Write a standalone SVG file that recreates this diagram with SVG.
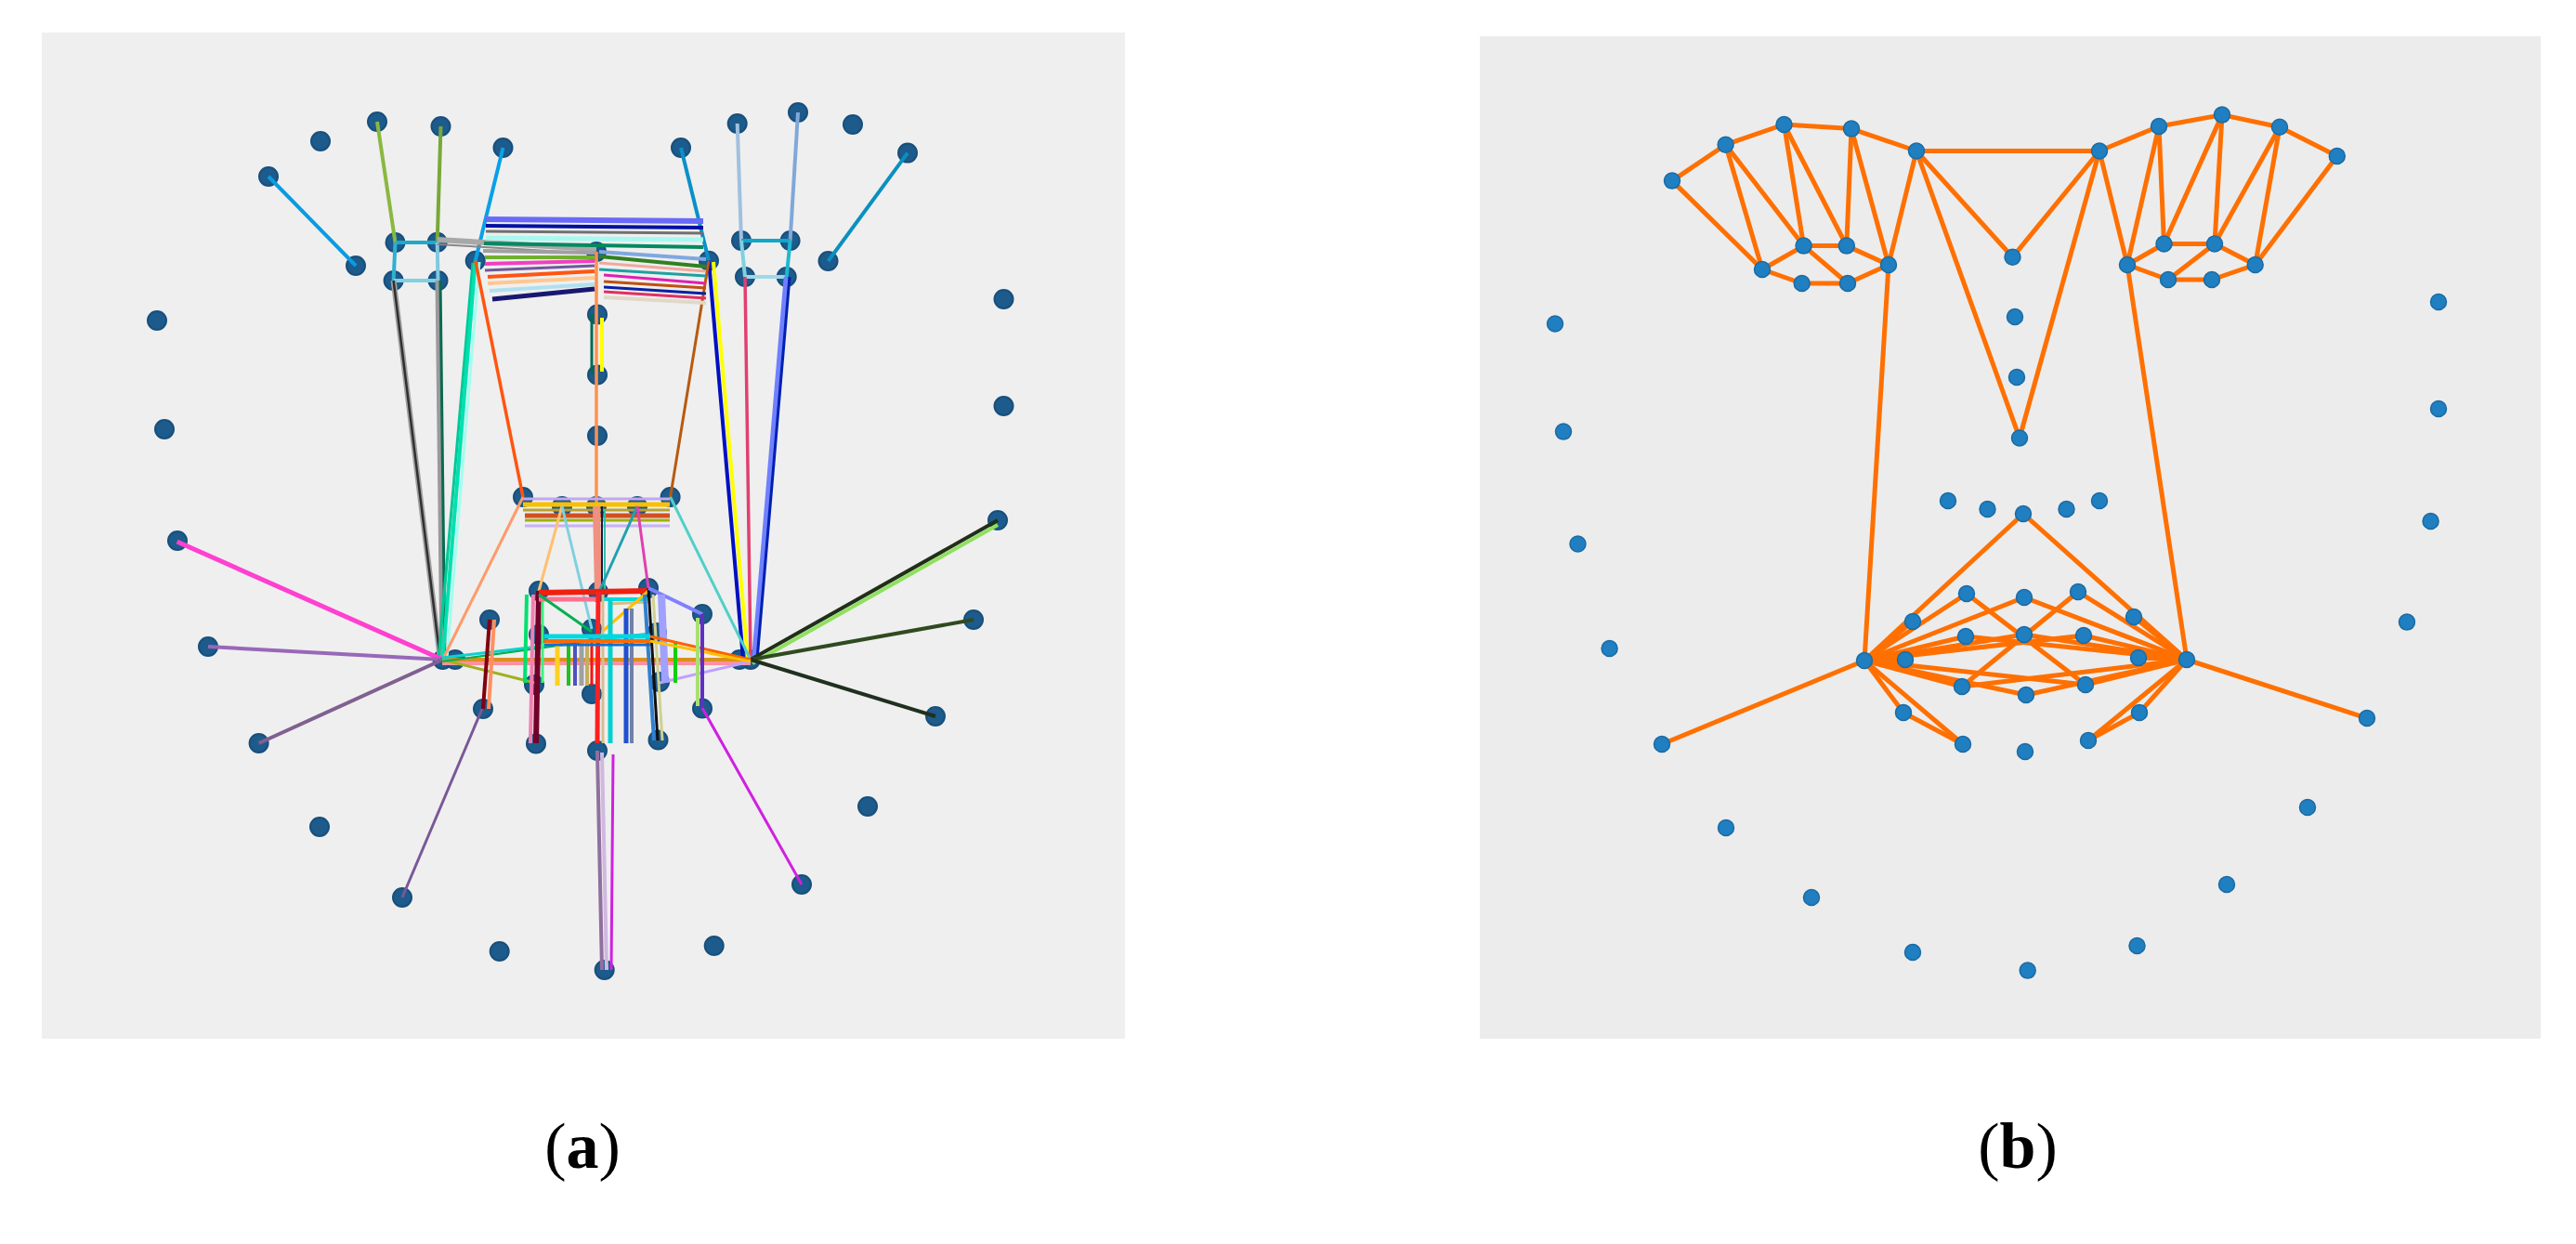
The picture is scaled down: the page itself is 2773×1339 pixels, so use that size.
<svg xmlns="http://www.w3.org/2000/svg" width="2773" height="1339" viewBox="0 0 2773 1339">
<style>
.na{fill:#1d5b8c;stroke:#184f7b;stroke-width:2}
.nb{fill:#1f7fc0;stroke:#1b6aa3;stroke-width:1.5}
.ca line{stroke-linecap:butt;fill:none}
.cb line{stroke:#ff7000;stroke-width:5;stroke-linecap:round;fill:none}
.lbl{font-family:"Liberation Serif","Times New Roman",serif;font-size:70px;fill:#000}
</style>
<rect width="2773" height="1339" fill="#ffffff"/>
<rect id="panel-a" x="45" y="35" width="1166" height="1083" fill="#efefef"/>
<rect id="panel-b" x="1593" y="39" width="1142" height="1079" fill="#ececec"/>

<!-- Panel (a) nodes -->
<g id="nodes-a">
<g id="a-j1"><circle class="na" cx="169" cy="345" r="10"/></g>
<g id="a-j2"><circle class="na" cx="177" cy="462" r="10"/></g>
<g id="a-j3"><circle class="na" cx="191" cy="582" r="10"/></g>
<g id="a-j4"><circle class="na" cx="224" cy="696" r="10"/></g>
<g id="a-j5"><circle class="na" cx="278.6" cy="800" r="10"/></g>
<g id="a-j6"><circle class="na" cx="344" cy="890" r="10"/></g>
<g id="a-j7"><circle class="na" cx="433" cy="966" r="10"/></g>
<g id="a-j8"><circle class="na" cx="537.7" cy="1024" r="10"/></g>
<g id="a-j9"><circle class="na" cx="650.7" cy="1044" r="10"/></g>
<g id="a-j10"><circle class="na" cx="768.7" cy="1018" r="10"/></g>
<g id="a-j11"><circle class="na" cx="863" cy="952" r="10"/></g>
<g id="a-j12"><circle class="na" cx="934" cy="868" r="10"/></g>
<g id="a-j13"><circle class="na" cx="1007" cy="771" r="10"/></g>
<g id="a-j14"><circle class="na" cx="1048" cy="667" r="10"/></g>
<g id="a-j15"><circle class="na" cx="1074" cy="560" r="10"/></g>
<g id="a-j16"><circle class="na" cx="1080.5" cy="437" r="10"/></g>
<g id="a-j17"><circle class="na" cx="1080.5" cy="322" r="10"/></g>
<g id="a-b1"><circle class="na" cx="289" cy="190" r="10"/></g>
<g id="a-b2"><circle class="na" cx="345" cy="152" r="10"/></g>
<g id="a-b3"><circle class="na" cx="406" cy="131" r="10"/></g>
<g id="a-b4"><circle class="na" cx="474.5" cy="136" r="10"/></g>
<g id="a-b5"><circle class="na" cx="541.5" cy="159" r="10"/></g>
<g id="a-b6"><circle class="na" cx="733" cy="159" r="10"/></g>
<g id="a-b7"><circle class="na" cx="793.7" cy="133" r="10"/></g>
<g id="a-b8"><circle class="na" cx="859" cy="121" r="10"/></g>
<g id="a-b9"><circle class="na" cx="918" cy="134" r="10"/></g>
<g id="a-b10"><circle class="na" cx="977" cy="164.6" r="10"/></g>
<g id="a-n1"><circle class="na" cx="642" cy="271" r="10"/></g>
<g id="a-n2"><circle class="na" cx="643" cy="338.5" r="10"/></g>
<g id="a-n3"><circle class="na" cx="643" cy="403.5" r="10"/></g>
<g id="a-n4"><circle class="na" cx="643" cy="469" r="10"/></g>
<g id="a-n5"><circle class="na" cx="563" cy="535" r="10"/></g>
<g id="a-n6"><circle class="na" cx="605" cy="545" r="10"/></g>
<g id="a-n7"><circle class="na" cx="642" cy="545" r="10"/></g>
<g id="a-n8"><circle class="na" cx="686" cy="545" r="10"/></g>
<g id="a-n9"><circle class="na" cx="721.6" cy="535" r="10"/></g>
<g id="a-e1"><circle class="na" cx="383" cy="286" r="10"/></g>
<g id="a-e2"><circle class="na" cx="425.5" cy="261" r="10"/></g>
<g id="a-e3"><circle class="na" cx="470.7" cy="260.7" r="10"/></g>
<g id="a-e4"><circle class="na" cx="511.7" cy="280.7" r="10"/></g>
<g id="a-e5"><circle class="na" cx="471.5" cy="302" r="10"/></g>
<g id="a-e6"><circle class="na" cx="423.6" cy="302" r="10"/></g>
<g id="a-e7"><circle class="na" cx="763" cy="280.7" r="10"/></g>
<g id="a-e8"><circle class="na" cx="798" cy="259" r="10"/></g>
<g id="a-e9"><circle class="na" cx="850.6" cy="259" r="10"/></g>
<g id="a-e10"><circle class="na" cx="891.5" cy="281" r="10"/></g>
<g id="a-e11"><circle class="na" cx="846.7" cy="298" r="10"/></g>
<g id="a-e12"><circle class="na" cx="802" cy="298" r="10"/></g>
<g id="a-m1"><circle class="na" cx="476.5" cy="710" r="10"/></g>
<g id="a-m2"><circle class="na" cx="527" cy="667" r="10"/></g>
<g id="a-m3"><circle class="na" cx="580" cy="636" r="10"/></g>
<g id="a-m4"><circle class="na" cx="644" cy="637" r="10"/></g>
<g id="a-m5"><circle class="na" cx="698" cy="633" r="10"/></g>
<g id="a-m6"><circle class="na" cx="756" cy="661" r="10"/></g>
<g id="a-m7"><circle class="na" cx="808" cy="710" r="10"/></g>
<g id="a-m8"><circle class="na" cx="756" cy="762.5" r="10"/></g>
<g id="a-m9"><circle class="na" cx="708.5" cy="796.5" r="10"/></g>
<g id="a-m10"><circle class="na" cx="643" cy="808" r="10"/></g>
<g id="a-m11"><circle class="na" cx="577" cy="800.5" r="10"/></g>
<g id="a-m12"><circle class="na" cx="520" cy="763" r="10"/></g>
<g id="a-m13"><circle class="na" cx="490" cy="710" r="10"/></g>
<g id="a-m14"><circle class="na" cx="580" cy="683" r="10"/></g>
<g id="a-m15"><circle class="na" cx="637" cy="677" r="10"/></g>
<g id="a-m16"><circle class="na" cx="707" cy="681" r="10"/></g>
<g id="a-m17"><circle class="na" cx="796" cy="710" r="10"/></g>
<g id="a-m18"><circle class="na" cx="710" cy="734" r="10"/></g>
<g id="a-m19"><circle class="na" cx="637" cy="747" r="10"/></g>
<g id="a-m20"><circle class="na" cx="575" cy="737" r="10"/></g>
</g>

<!-- Panel (a) connectors -->
<g id="connectors-a" class="ca">
<line x1="289" y1="190" x2="383" y2="286" stroke="#0a9be0" stroke-width="4"/>
<line x1="406" y1="131" x2="425.5" y2="261" stroke="#8ab840" stroke-width="4"/>
<line x1="474.5" y1="136" x2="470.7" y2="260.7" stroke="#78a838" stroke-width="4"/>
<line x1="541.5" y1="159" x2="511.7" y2="280.7" stroke="#0aa0e8" stroke-width="4"/>
<line x1="425.5" y1="261" x2="470.7" y2="261" stroke="#20a8c8" stroke-width="4"/>
<line x1="425.5" y1="261" x2="423.6" y2="302" stroke="#30b0d0" stroke-width="4"/>
<line x1="423.6" y1="302" x2="471.5" y2="302" stroke="#80d0e0" stroke-width="4"/>
<line x1="470.7" y1="261" x2="471.5" y2="302" stroke="#80c8e0" stroke-width="4"/>
<line x1="470.7" y1="258" x2="642" y2="268" stroke="#a8a8a8" stroke-width="6"/>
<line x1="470.7" y1="263" x2="642" y2="273" stroke="#888888" stroke-width="2"/>
<line x1="423.6" y1="302" x2="474" y2="710" stroke="#a0a0a0" stroke-width="6"/>
<line x1="423.6" y1="302" x2="474" y2="710" stroke="#303030" stroke-width="2.5"/>
<line x1="471.5" y1="302" x2="476.5" y2="710" stroke="#9a9a9a" stroke-width="6"/>
<line x1="474" y1="302" x2="479" y2="710" stroke="#0a6a50" stroke-width="3"/>
<line x1="509" y1="283" x2="472" y2="710" stroke="#00c896" stroke-width="3"/>
<line x1="511.7" y1="280.7" x2="476.5" y2="710" stroke="#00e0b0" stroke-width="4"/>
<line x1="516" y1="282" x2="481" y2="710" stroke="#a0fff0" stroke-width="3"/>
<line x1="511.7" y1="280.7" x2="563" y2="535" stroke="#ff5510" stroke-width="3.5"/>
<line x1="733" y1="159" x2="763" y2="280.7" stroke="#0a90c8" stroke-width="4"/>
<line x1="793.7" y1="133" x2="798" y2="259" stroke="#a0c0e0" stroke-width="4"/>
<line x1="859" y1="121" x2="850.6" y2="259" stroke="#80a8d8" stroke-width="4"/>
<line x1="977" y1="164.6" x2="891.5" y2="281" stroke="#0a90c0" stroke-width="4"/>
<line x1="798" y1="259" x2="850.6" y2="259" stroke="#10a8c8" stroke-width="4"/>
<line x1="798" y1="259" x2="802" y2="298" stroke="#80d0e0" stroke-width="4"/>
<line x1="802" y1="298" x2="846.7" y2="298" stroke="#a0d8e8" stroke-width="4"/>
<line x1="850.6" y1="259" x2="846.7" y2="298" stroke="#20b8d0" stroke-width="4"/>
<line x1="763" y1="280.7" x2="800" y2="710" stroke="#0010c0" stroke-width="4"/>
<line x1="768" y1="282" x2="805" y2="710" stroke="#ffff00" stroke-width="4"/>
<line x1="802" y1="298" x2="808" y2="710" stroke="#e04070" stroke-width="3.5"/>
<line x1="846.7" y1="298" x2="812" y2="710" stroke="#7080ff" stroke-width="6"/>
<line x1="850" y1="298" x2="815" y2="710" stroke="#0020b0" stroke-width="3"/>
<line x1="763" y1="280.7" x2="721.6" y2="535" stroke="#b85a10" stroke-width="3"/>
<line x1="642" y1="271" x2="642" y2="545" stroke="#ff9050" stroke-width="3.5"/>
<line x1="637" y1="338" x2="637" y2="403" stroke="#006a50" stroke-width="3"/>
<line x1="648" y1="342" x2="648" y2="400" stroke="#ffff00" stroke-width="4"/>
<line x1="523" y1="236" x2="757" y2="238" stroke="#6a6af8" stroke-width="6"/>
<line x1="523" y1="243" x2="757" y2="245" stroke="#0010a0" stroke-width="4"/>
<line x1="523" y1="249" x2="757" y2="251" stroke="#707070" stroke-width="3"/>
<line x1="523" y1="256" x2="757" y2="258" stroke="#a8f8f0" stroke-width="5"/>
<line x1="521" y1="262" x2="757" y2="266" stroke="#008a60" stroke-width="4"/>
<line x1="520" y1="270" x2="640" y2="272" stroke="#a0a0a0" stroke-width="4"/>
<line x1="522" y1="277" x2="640" y2="277" stroke="#70b030" stroke-width="4"/>
<line x1="522" y1="284" x2="640" y2="281" stroke="#f040c0" stroke-width="4"/>
<line x1="522" y1="291" x2="640" y2="286" stroke="#705898" stroke-width="3"/>
<line x1="525" y1="298" x2="640" y2="292" stroke="#ff5510" stroke-width="4"/>
<line x1="525" y1="305" x2="640" y2="299" stroke="#ffc890" stroke-width="4"/>
<line x1="527" y1="313" x2="640" y2="306" stroke="#b0e0f0" stroke-width="4"/>
<line x1="530" y1="322" x2="640" y2="311" stroke="#181870" stroke-width="5"/>
<line x1="645" y1="271" x2="760" y2="279" stroke="#80a8e0" stroke-width="4"/>
<line x1="645" y1="276" x2="760" y2="287" stroke="#308020" stroke-width="4"/>
<line x1="645" y1="283" x2="760" y2="292" stroke="#f0a8a0" stroke-width="3"/>
<line x1="645" y1="290" x2="760" y2="297" stroke="#20a0a0" stroke-width="3"/>
<line x1="650" y1="296" x2="760" y2="305" stroke="#e020b0" stroke-width="3"/>
<line x1="650" y1="303" x2="760" y2="310" stroke="#c05010" stroke-width="3"/>
<line x1="650" y1="309" x2="760" y2="316" stroke="#0a20a0" stroke-width="3"/>
<line x1="650" y1="314" x2="760" y2="321" stroke="#e03060" stroke-width="3"/>
<line x1="650" y1="320" x2="760" y2="326" stroke="#e0d8c8" stroke-width="4"/>
<line x1="563" y1="537" x2="721" y2="537" stroke="#c0a8f0" stroke-width="3"/>
<line x1="563" y1="543" x2="721" y2="543" stroke="#f8c000" stroke-width="5"/>
<line x1="563" y1="549" x2="721" y2="549" stroke="#b8a030" stroke-width="3"/>
<line x1="565" y1="555" x2="721" y2="555" stroke="#d05020" stroke-width="5"/>
<line x1="565" y1="560" x2="721" y2="560" stroke="#a0b010" stroke-width="3"/>
<line x1="565" y1="566" x2="721" y2="566" stroke="#c8b0f8" stroke-width="3"/>
<line x1="563" y1="535" x2="476.5" y2="710" stroke="#ff9a6a" stroke-width="3"/>
<line x1="605" y1="545" x2="580" y2="636" stroke="#ffc070" stroke-width="3"/>
<line x1="605" y1="545" x2="637" y2="677" stroke="#80d0e0" stroke-width="3"/>
<line x1="642" y1="545" x2="644" y2="637" stroke="#f09080" stroke-width="8"/>
<line x1="648" y1="545" x2="648" y2="637" stroke="#102040" stroke-width="2"/>
<line x1="651" y1="548" x2="651" y2="637" stroke="#30c0b0" stroke-width="2"/>
<line x1="686" y1="545" x2="645" y2="637" stroke="#20a0b0" stroke-width="3"/>
<line x1="686" y1="545" x2="698" y2="633" stroke="#e040b0" stroke-width="3"/>
<line x1="721.6" y1="535" x2="808" y2="710" stroke="#50d0c8" stroke-width="3"/>
<line x1="476.5" y1="710" x2="190.6" y2="583" stroke="#ff40d0" stroke-width="5"/>
<line x1="476.5" y1="710" x2="224" y2="696" stroke="#9868b8" stroke-width="4"/>
<line x1="476.5" y1="710" x2="278.6" y2="800" stroke="#806090" stroke-width="4"/>
<line x1="519" y1="763" x2="433" y2="966" stroke="#785898" stroke-width="3"/>
<line x1="808" y1="710" x2="1074" y2="560" stroke="#203018" stroke-width="4"/>
<line x1="810" y1="714" x2="1074" y2="565" stroke="#90e060" stroke-width="4"/>
<line x1="808" y1="710" x2="1048" y2="667" stroke="#304a20" stroke-width="4"/>
<line x1="808" y1="710" x2="1007" y2="771" stroke="#203020" stroke-width="4"/>
<line x1="756" y1="762" x2="863" y2="952" stroke="#d020e0" stroke-width="3"/>
<line x1="643" y1="808" x2="648" y2="1044" stroke="#9070a0" stroke-width="4"/>
<line x1="648" y1="810" x2="653" y2="1044" stroke="#d0b8e0" stroke-width="4"/>
<line x1="660" y1="812" x2="658" y2="1044" stroke="#d020e0" stroke-width="3"/>
<line x1="476" y1="710" x2="808" y2="710" stroke="#d89020" stroke-width="4"/>
<line x1="476" y1="714" x2="808" y2="714" stroke="#ff90a0" stroke-width="4"/>
<line x1="476" y1="710" x2="576" y2="735" stroke="#a0b020" stroke-width="3"/>
<line x1="710" y1="735" x2="808" y2="712" stroke="#c0a0ff" stroke-width="3"/>
<line x1="476" y1="708" x2="700" y2="682" stroke="#10d0d0" stroke-width="3"/>
<line x1="476" y1="712" x2="637" y2="690" stroke="#00b050" stroke-width="2"/>
<line x1="527" y1="667" x2="520" y2="763" stroke="#800010" stroke-width="4"/>
<line x1="532" y1="667" x2="526" y2="763" stroke="#ff9060" stroke-width="4"/>
<line x1="580" y1="636" x2="577" y2="800" stroke="#700028" stroke-width="6"/>
<line x1="574" y1="640" x2="571" y2="800" stroke="#f080b0" stroke-width="4"/>
<line x1="567" y1="640" x2="565" y2="735" stroke="#00e070" stroke-width="4"/>
<line x1="584" y1="645" x2="584" y2="735" stroke="#40f080" stroke-width="3"/>
<line x1="580" y1="638" x2="698" y2="636" stroke="#f02010" stroke-width="6"/>
<line x1="580" y1="645" x2="645" y2="645" stroke="#ff7090" stroke-width="5"/>
<line x1="650" y1="645" x2="698" y2="645" stroke="#00d8e0" stroke-width="4"/>
<line x1="655" y1="650" x2="698" y2="648" stroke="#d0c080" stroke-width="3"/>
<line x1="698" y1="636" x2="648" y2="680" stroke="#ffc000" stroke-width="3"/>
<line x1="580" y1="640" x2="637" y2="680" stroke="#00b050" stroke-width="3"/>
<line x1="600" y1="690" x2="600" y2="738" stroke="#ffd020" stroke-width="5"/>
<line x1="612" y1="690" x2="612" y2="738" stroke="#20c020" stroke-width="4"/>
<line x1="619" y1="690" x2="619" y2="738" stroke="#5050c0" stroke-width="4"/>
<line x1="626" y1="690" x2="626" y2="738" stroke="#a0a0a0" stroke-width="5"/>
<line x1="632" y1="690" x2="632" y2="738" stroke="#c0b060" stroke-width="4"/>
<line x1="637" y1="690" x2="637" y2="738" stroke="#ff1010" stroke-width="3"/>
<line x1="727" y1="690" x2="727" y2="735" stroke="#10d010" stroke-width="4"/>
<line x1="644" y1="637" x2="643" y2="800" stroke="#ff2020" stroke-width="5"/>
<line x1="649" y1="640" x2="649" y2="800" stroke="#d0c090" stroke-width="3"/>
<line x1="657" y1="645" x2="657" y2="800" stroke="#00d0d0" stroke-width="5"/>
<line x1="674" y1="655" x2="674" y2="800" stroke="#2050d0" stroke-width="5"/>
<line x1="680" y1="655" x2="680" y2="800" stroke="#7080a8" stroke-width="4"/>
<line x1="694" y1="640" x2="704" y2="797" stroke="#3080d0" stroke-width="4"/>
<line x1="698" y1="633" x2="708" y2="797" stroke="#101010" stroke-width="3"/>
<line x1="703" y1="640" x2="713" y2="797" stroke="#d0d090" stroke-width="3"/>
<line x1="698" y1="633" x2="756" y2="661" stroke="#8080ff" stroke-width="4"/>
<line x1="712" y1="640" x2="716" y2="735" stroke="#a0a0ff" stroke-width="8"/>
<line x1="586" y1="685" x2="700" y2="685" stroke="#00d8e0" stroke-width="5"/>
<line x1="586" y1="690" x2="700" y2="690" stroke="#ff6a00" stroke-width="4"/>
<line x1="586" y1="694" x2="700" y2="694" stroke="#1070d0" stroke-width="3"/>
<line x1="700" y1="685" x2="808" y2="710" stroke="#ff6000" stroke-width="3"/>
<line x1="700" y1="690" x2="808" y2="712" stroke="#ffc000" stroke-width="3"/>
<line x1="756" y1="661" x2="756" y2="762" stroke="#6030c0" stroke-width="4"/>
<line x1="751" y1="665" x2="751" y2="760" stroke="#a8e070" stroke-width="4"/>
</g>

<!-- Panel (b) connectors -->
<g id="connectors-b" class="cb">
<line x1="1800" y1="194.6" x2="1857.6" y2="155.7"/>
<line x1="1857.6" y1="155.7" x2="1920.5" y2="134"/>
<line x1="1920.5" y1="134" x2="1993" y2="138.6"/>
<line x1="1993" y1="138.6" x2="2063" y2="162.5"/>
<line x1="2063" y1="162.5" x2="2260" y2="162.5"/>
<line x1="2260" y1="162.5" x2="2324" y2="136"/>
<line x1="2324" y1="136" x2="2392" y2="123.6"/>
<line x1="2392" y1="123.6" x2="2454" y2="136.8"/>
<line x1="2454" y1="136.8" x2="2515.8" y2="168"/>
<line x1="1800" y1="194.6" x2="1897" y2="290"/>
<line x1="1857.6" y1="155.7" x2="1897" y2="290"/>
<line x1="1857.6" y1="155.7" x2="1941.6" y2="264.6"/>
<line x1="1920.5" y1="134" x2="1941.6" y2="264.6"/>
<line x1="1920.5" y1="134" x2="1987.8" y2="264.6"/>
<line x1="1993" y1="138.6" x2="1987.8" y2="264.6"/>
<line x1="1993" y1="138.6" x2="2033" y2="285"/>
<line x1="2063" y1="162.5" x2="2033" y2="285"/>
<line x1="1897" y1="290" x2="1941.6" y2="264.6"/>
<line x1="1941.6" y1="264.6" x2="1987.8" y2="264.6"/>
<line x1="1987.8" y1="264.6" x2="2033" y2="285"/>
<line x1="2033" y1="285" x2="1989" y2="305"/>
<line x1="1989" y1="305" x2="1939.7" y2="305"/>
<line x1="1939.7" y1="305" x2="1897" y2="290"/>
<line x1="1941.6" y1="264.6" x2="1989" y2="305"/>
<line x1="2515.8" y1="168" x2="2427.7" y2="285"/>
<line x1="2454" y1="136.8" x2="2427.7" y2="285"/>
<line x1="2454" y1="136.8" x2="2384" y2="262.5"/>
<line x1="2392" y1="123.6" x2="2384" y2="262.5"/>
<line x1="2392" y1="123.6" x2="2329.5" y2="262.5"/>
<line x1="2324" y1="136" x2="2329.5" y2="262.5"/>
<line x1="2324" y1="136" x2="2290" y2="285"/>
<line x1="2260" y1="162.5" x2="2290" y2="285"/>
<line x1="2290" y1="285" x2="2329.5" y2="262.5"/>
<line x1="2329.5" y1="262.5" x2="2384" y2="262.5"/>
<line x1="2384" y1="262.5" x2="2427.7" y2="285"/>
<line x1="2427.7" y1="285" x2="2381" y2="301"/>
<line x1="2381" y1="301" x2="2334" y2="301"/>
<line x1="2334" y1="301" x2="2290" y2="285"/>
<line x1="2384" y1="262.5" x2="2334" y2="301"/>
<line x1="2063" y1="162.5" x2="2166.5" y2="276.8"/>
<line x1="2260" y1="162.5" x2="2166.5" y2="276.8"/>
<line x1="2063" y1="162.5" x2="2174" y2="471.5"/>
<line x1="2260" y1="162.5" x2="2174" y2="471.5"/>
<line x1="2033" y1="285" x2="2007" y2="711"/>
<line x1="2290" y1="285" x2="2354" y2="710"/>
<line x1="2178" y1="553" x2="2007" y2="711"/>
<line x1="2178" y1="553" x2="2354" y2="710"/>
<line x1="2007" y1="711" x2="1789" y2="801"/>
<line x1="2354" y1="710" x2="2548" y2="773"/>
<line x1="2007" y1="711" x2="2059" y2="669"/>
<line x1="2007" y1="711" x2="2117" y2="639"/>
<line x1="2007" y1="711" x2="2179" y2="643"/>
<line x1="2007" y1="711" x2="2051" y2="710"/>
<line x1="2007" y1="711" x2="2116" y2="685"/>
<line x1="2007" y1="711" x2="2179" y2="683"/>
<line x1="2007" y1="711" x2="2243" y2="684"/>
<line x1="2007" y1="711" x2="2112" y2="739"/>
<line x1="2007" y1="711" x2="2181" y2="748"/>
<line x1="2007" y1="711" x2="2245" y2="737"/>
<line x1="2007" y1="711" x2="2049" y2="767"/>
<line x1="2007" y1="711" x2="2113" y2="801"/>
<line x1="2049" y1="767" x2="2113" y2="801"/>
<line x1="2354" y1="710" x2="2297" y2="664"/>
<line x1="2354" y1="710" x2="2237" y2="637"/>
<line x1="2354" y1="710" x2="2179" y2="643"/>
<line x1="2354" y1="710" x2="2302" y2="708"/>
<line x1="2354" y1="710" x2="2243" y2="684"/>
<line x1="2354" y1="710" x2="2179" y2="683"/>
<line x1="2354" y1="710" x2="2116" y2="685"/>
<line x1="2354" y1="710" x2="2245" y2="737"/>
<line x1="2354" y1="710" x2="2181" y2="748"/>
<line x1="2354" y1="710" x2="2112" y2="739"/>
<line x1="2354" y1="710" x2="2303" y2="767"/>
<line x1="2354" y1="710" x2="2248" y2="797"/>
<line x1="2303" y1="767" x2="2248" y2="797"/>
<line x1="2117" y1="639" x2="2245" y2="737"/>
<line x1="2237" y1="637" x2="2112" y2="739"/>
</g>

<!-- Panel (b) nodes -->
<g id="nodes-b">
<g id="b-j1"><circle class="nb" cx="1674" cy="348.5" r="8.5"/></g>
<g id="b-j2"><circle class="nb" cx="1683" cy="464.6" r="8.5"/></g>
<g id="b-j3"><circle class="nb" cx="1698.5" cy="585.5" r="8.5"/></g>
<g id="b-j4"><circle class="nb" cx="1732.6" cy="698" r="8.5"/></g>
<g id="b-j5"><circle class="nb" cx="1789" cy="801" r="8.5"/></g>
<g id="b-j6"><circle class="nb" cx="1858" cy="891" r="8.5"/></g>
<g id="b-j7"><circle class="nb" cx="1950" cy="966" r="8.5"/></g>
<g id="b-j8"><circle class="nb" cx="2059" cy="1025" r="8.5"/></g>
<g id="b-j9"><circle class="nb" cx="2182.7" cy="1044.6" r="8.5"/></g>
<g id="b-j10"><circle class="nb" cx="2300.5" cy="1018" r="8.5"/></g>
<g id="b-j11"><circle class="nb" cx="2397" cy="952" r="8.5"/></g>
<g id="b-j12"><circle class="nb" cx="2484" cy="869" r="8.5"/></g>
<g id="b-j13"><circle class="nb" cx="2548" cy="773" r="8.5"/></g>
<g id="b-j14"><circle class="nb" cx="2591" cy="669.6" r="8.5"/></g>
<g id="b-j15"><circle class="nb" cx="2616.6" cy="561" r="8.5"/></g>
<g id="b-j16"><circle class="nb" cx="2625" cy="440" r="8.5"/></g>
<g id="b-j17"><circle class="nb" cx="2625" cy="325" r="8.5"/></g>
<g id="b-b1"><circle class="nb" cx="1800" cy="194.6" r="8.5"/></g>
<g id="b-b2"><circle class="nb" cx="1857.6" cy="155.7" r="8.5"/></g>
<g id="b-b3"><circle class="nb" cx="1920.5" cy="134" r="8.5"/></g>
<g id="b-b4"><circle class="nb" cx="1993" cy="138.6" r="8.5"/></g>
<g id="b-b5"><circle class="nb" cx="2063" cy="162.5" r="8.5"/></g>
<g id="b-b6"><circle class="nb" cx="2260" cy="162.5" r="8.5"/></g>
<g id="b-b7"><circle class="nb" cx="2324" cy="136" r="8.5"/></g>
<g id="b-b8"><circle class="nb" cx="2392" cy="123.6" r="8.5"/></g>
<g id="b-b9"><circle class="nb" cx="2454" cy="136.8" r="8.5"/></g>
<g id="b-b10"><circle class="nb" cx="2515.8" cy="168" r="8.5"/></g>
<g id="b-n1"><circle class="nb" cx="2166.5" cy="276.8" r="8.5"/></g>
<g id="b-n2"><circle class="nb" cx="2169" cy="341" r="8.5"/></g>
<g id="b-n3"><circle class="nb" cx="2171" cy="406" r="8.5"/></g>
<g id="b-n4"><circle class="nb" cx="2174" cy="471.5" r="8.5"/></g>
<g id="b-n5"><circle class="nb" cx="2097" cy="539" r="8.5"/></g>
<g id="b-n6"><circle class="nb" cx="2139.5" cy="548" r="8.5"/></g>
<g id="b-n7"><circle class="nb" cx="2178" cy="553" r="8.5"/></g>
<g id="b-n8"><circle class="nb" cx="2224.5" cy="548" r="8.5"/></g>
<g id="b-n9"><circle class="nb" cx="2260" cy="539" r="8.5"/></g>
<g id="b-e1"><circle class="nb" cx="1897" cy="290" r="8.5"/></g>
<g id="b-e2"><circle class="nb" cx="1941.6" cy="264.6" r="8.5"/></g>
<g id="b-e3"><circle class="nb" cx="1987.8" cy="264.6" r="8.5"/></g>
<g id="b-e4"><circle class="nb" cx="2033" cy="285" r="8.5"/></g>
<g id="b-e5"><circle class="nb" cx="1989" cy="305" r="8.5"/></g>
<g id="b-e6"><circle class="nb" cx="1939.7" cy="305" r="8.5"/></g>
<g id="b-e7"><circle class="nb" cx="2290" cy="285" r="8.5"/></g>
<g id="b-e8"><circle class="nb" cx="2329.5" cy="262.5" r="8.5"/></g>
<g id="b-e9"><circle class="nb" cx="2384" cy="262.5" r="8.5"/></g>
<g id="b-e10"><circle class="nb" cx="2427.7" cy="285" r="8.5"/></g>
<g id="b-e11"><circle class="nb" cx="2381" cy="301" r="8.5"/></g>
<g id="b-e12"><circle class="nb" cx="2334" cy="301" r="8.5"/></g>
<g id="b-m1"><circle class="nb" cx="2007" cy="711" r="8.5"/></g>
<g id="b-m2"><circle class="nb" cx="2059" cy="669" r="8.5"/></g>
<g id="b-m3"><circle class="nb" cx="2117" cy="639" r="8.5"/></g>
<g id="b-m4"><circle class="nb" cx="2179" cy="643" r="8.5"/></g>
<g id="b-m5"><circle class="nb" cx="2237" cy="637" r="8.5"/></g>
<g id="b-m6"><circle class="nb" cx="2297" cy="664" r="8.5"/></g>
<g id="b-m7"><circle class="nb" cx="2354" cy="710" r="8.5"/></g>
<g id="b-m8"><circle class="nb" cx="2303" cy="767" r="8.5"/></g>
<g id="b-m9"><circle class="nb" cx="2248" cy="797" r="8.5"/></g>
<g id="b-m10"><circle class="nb" cx="2180" cy="809" r="8.5"/></g>
<g id="b-m11"><circle class="nb" cx="2113" cy="801" r="8.5"/></g>
<g id="b-m12"><circle class="nb" cx="2049" cy="767" r="8.5"/></g>
<g id="b-m13"><circle class="nb" cx="2051" cy="710" r="8.5"/></g>
<g id="b-m14"><circle class="nb" cx="2116" cy="685" r="8.5"/></g>
<g id="b-m15"><circle class="nb" cx="2179" cy="683" r="8.5"/></g>
<g id="b-m16"><circle class="nb" cx="2243" cy="684" r="8.5"/></g>
<g id="b-m17"><circle class="nb" cx="2302" cy="708" r="8.5"/></g>
<g id="b-m18"><circle class="nb" cx="2245" cy="737" r="8.5"/></g>
<g id="b-m19"><circle class="nb" cx="2181" cy="748" r="8.5"/></g>
<g id="b-m20"><circle class="nb" cx="2112" cy="739" r="8.5"/></g>
</g>

<text class="lbl" x="627" y="1257" text-anchor="middle">(<tspan font-weight="bold">a</tspan>)</text>
<text class="lbl" x="2172" y="1257" text-anchor="middle">(<tspan font-weight="bold">b</tspan>)</text>
</svg>
